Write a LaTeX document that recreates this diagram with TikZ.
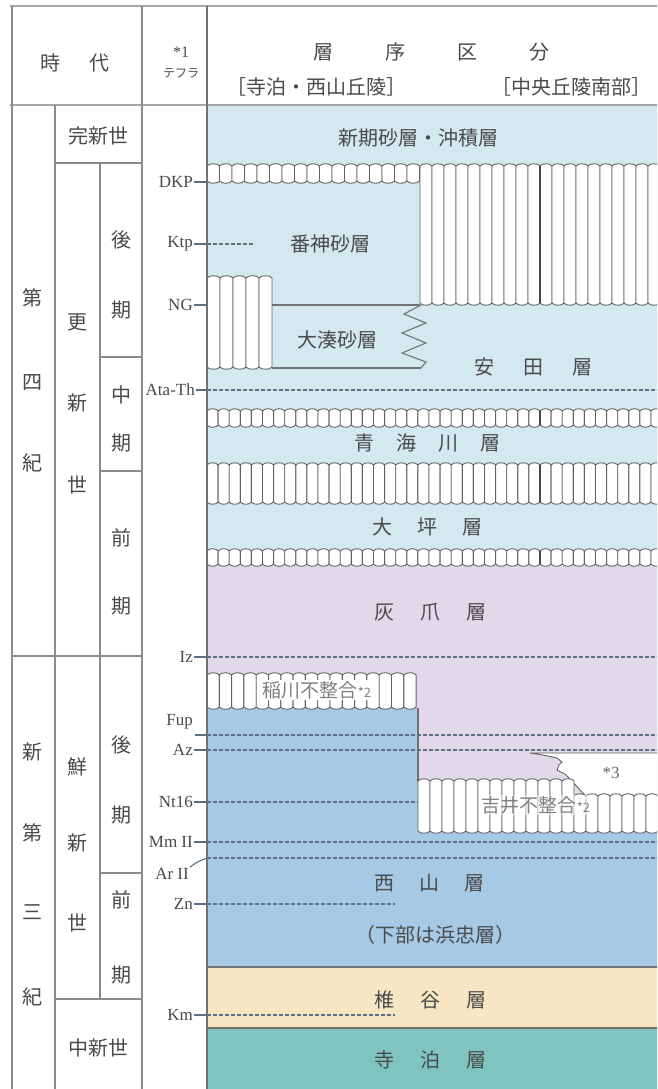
\documentclass[tikz,border=0pt]{standalone}
\usepackage{fontspec}
\setmainfont{Liberation Serif}
\newfontfamily\jp{Noto Sans CJK JP}
\definecolor{lblue}{HTML}{D4E8F0}
\definecolor{lpurp}{HTML}{E1D8EA}
\definecolor{mblue}{HTML}{A6C9E6}
\definecolor{beige}{HTML}{F6E6C3}
\definecolor{teal2}{HTML}{80C4BF}
\definecolor{tgray}{HTML}{4A4A4A}
\definecolor{dashc}{HTML}{5C6F86}
\tikzset{
  tline/.style={draw=black!45, line width=1.4pt},
  hline/.style={draw=black!35, line width=2.6pt},
  ucell/.style={draw=black!62, line width=0.9pt, fill=white},
  dline/.style={draw=dashc, line width=1.1pt, dash pattern=on 3.5pt off 2.5pt},
  lead/.style={draw=dashc, line width=1.1pt},
  sline/.style={draw=black!55, line width=1.1pt},
  lab/.style={font=\jp\fontsize{20}{22}\selectfont, text=tgray, inner sep=0pt},
  glab/.style={font=\jp\fontsize{19}{21}\selectfont, text=black!50, inner sep=1pt},
  tc/.style={font=\jp\fontsize{20}{22}\selectfont, text=tgray, inner sep=0pt},
  teph/.style={font=\fontsize{17}{19}\selectfont, text=tgray, anchor=east, inner sep=1pt},
}
% x1, period, n, ytop, ybot, bump
\newcommand\ucband[6]{%
  \foreach \k in {1,...,#3}{%
    \pgfmathsetmacro\xa{#1+(\k-1)*#2}%
    \pgfmathsetmacro\xb{#1+\k*#2}%
    \filldraw[ucell] (\xa,#4) .. controls (\xa+0.15*#2,#4-#6) and (\xb-0.15*#2,#4-#6) .. (\xb,#4)
      -- (\xb,#5) .. controls (\xb-0.15*#2,#5+#6) and (\xa+0.15*#2,#5+#6) .. (\xa,#5) -- cycle;
  }%
}
\begin{document}
\begin{tikzpicture}[x=1pt,y=-1pt]
\useasboundingbox (0,0) rectangle (657,1089);
\clip (0,0) rectangle (657,1089);
\fill[white] (0,0) rectangle (657,1089);
% ---------- colour fills
\fill[lblue] (207,105) rectangle (660,565);
\fill[lpurp] (207,565) rectangle (660,967);
\fill[mblue] (207,708) -- (418,708) -- (418,832) -- (660,832) -- (660,967) -- (207,967) -- cycle;
\fill[beige] (207,967) rectangle (660,1028);
\fill[teal2] (207,1028) rectangle (660,1089);
\draw[sline] (207,967) -- (660,967);
\draw[sline] (207,1028) -- (660,1028);
\draw[sline] (418,708) -- (418,782);
% ---------- dashed tephra lines
\draw[dline] (207,244) -- (253,244);
\draw[dline] (207,390) -- (660,390);
\draw[dline] (207,657) -- (660,657);
\draw[dline] (207,735) -- (660,735);
\draw[dline] (207,750) -- (660,750);
\draw[dline] (207,802) -- (418,802);
\draw[dline] (207,842) -- (660,842);
\draw[dline] (207,858) -- (660,858);
\draw[dline] (207,904) -- (395,904);
\draw[dline] (207,1015) -- (395,1015);
% ---------- *3 white area
\filldraw[fill=white, draw=black!60, line width=0.9pt]
  (530,753) -- (660,753) -- (660,796) -- (586,796) -- (580,790) -- (573,782) -- (565,774)
  -- (557,770) -- (559,765) -- (562,762) -- (557,758) -- (543,755) -- cycle;
% ---------- unconformity bands
\ucband{207}{12.5}{17}{166}{181}{3}
\ucband{420}{12}{20}{166}{303}{3}
\ucband{207}{13}{5}{278}{367}{3}
\ucband{207}{11.1}{41}{411}{425}{3}
\ucband{207}{11.1}{41}{465}{502}{3}
\ucband{207}{11.1}{41}{551}{564}{3}
\ucband{207}{12.3}{17}{675}{707}{3}
\ucband{418}{12}{13}{781}{831}{3}
\ucband{574}{12}{8}{796}{831}{3}
\draw[black!72, line width=1.6pt] (540,166) -- (540,303);
\draw[black!72, line width=1.6pt] (540,411) -- (540,425);
\draw[black!72, line width=1.6pt] (540,465) -- (540,502);
\draw[black!72, line width=1.6pt] (540,551) -- (540,564);
% ---------- sand layer boundaries
\draw[sline] (272,305) -- (420,305);
\draw[sline] (272,368) -- (421,368);
\draw[sline] (421,305) -- (404,314) -- (426,323) -- (402,333) -- (426,343) -- (402,353) -- (426,362) -- (421,368);
% ---------- table lines
\draw[hline] (10,6) -- (660,6);
\draw[hline] (10,105) -- (660,105);
\draw[tline] (12,6) -- (12,1089);
\draw[tline] (142,6) -- (142,1089);
\draw[tline] (55,105) -- (55,1089);
\draw[tline] (100,163) -- (100,999);
\draw[tline] (55,163) -- (142,163);
\draw[tline] (100,357) -- (142,357);
\draw[tline] (100,471) -- (142,471);
\draw[tline] (12,656) -- (142,656);
\draw[tline] (100,873) -- (142,873);
\draw[tline] (55,999) -- (142,999);
\draw[black!55, line width=1.4pt] (207,6) -- (207,1089);
% ---------- header
\node[tc] (hjd) at (75,63) {時\hspace{29pt}代};
\node[font=\fontsize{16}{17}\selectfont, text=tgray, inner sep=0pt] (hs1) at (181,52) {*1};
\node[font=\jp\fontsize{12}{13}\selectfont, text=tgray, inner sep=0pt] (hteph) at (181,73) {テフラ};
\node[tc] (hsq) at (431,52) {層\hspace{52pt}序\hspace{52pt}区\hspace{52pt}分};
\node[lab] (hl) at (316,87) {［寺泊・西山丘陵］};
\node[lab] (hr) at (571,87) {［中央丘陵南部］};
% ---------- era column
\node[tc] (kns) at (98,136) {完新世};
\foreach \c/\y [count=\i] in {第/298,四/383,紀/463} \node[tc] (qa\i) at (33,\y) {\c};
\foreach \c/\y [count=\i] in {更/322,新/403,世/485} \node[tc] (qb\i) at (77,\y) {\c};
\foreach \c/\y [count=\i] in {後/240,期/310,中/395,期/443,前/538,期/606} \node[tc] (qc\i) at (121,\y) {\c};
\foreach \c/\y [count=\i] in {新/752,第/833,三/912,紀/997} \node[tc] (na\i) at (33,\y) {\c};
\foreach \c/\y [count=\i] in {鮮/767,新/843,世/923} \node[tc] (nb\i) at (77,\y) {\c};
\foreach \c/\y [count=\i] in {後/745,期/815,前/900,期/975} \node[tc] (nc\i) at (121,\y) {\c};
\node[tc] (cns) at (98,1048) {中新世};
% ---------- tephra labels
\node[teph] (dkp) at (194,182) {DKP};
\node[teph] (ktp) at (194,244) {Ktp};
\node[teph] (ng) at (194,305) {NG};
\node[teph] (ata) at (196,390) {Ata-Th};
\node[teph] (iz) at (194,657) {Iz};
\node[teph] (fup) at (194,722) {Fup};
\node[teph] (az) at (194,750) {Az};
\node[teph] (nt) at (194,802) {Nt16};
\node[teph] (mm) at (194,842) {Mm II};
\node[teph] (ar) at (190,874) {Ar II};
\node[teph] (zn) at (194,904) {Zn};
\node[teph] (km) at (194,1015) {Km};
\coordinate (dkpE) at (207,182);
\coordinate (ktpE) at (207,244);
\coordinate (ngE) at (207,305);
\coordinate (ataE) at (207,390);
\coordinate (izE) at (207,657);
\coordinate (fupS) at (195,735);
\coordinate (fupE) at (207,735);
\coordinate (azE) at (207,750);
\coordinate (ntE) at (207,802);
\coordinate (mmE) at (207,842);
\coordinate (arE) at (207,858);
\coordinate (znE) at (207,904);
\coordinate (kmE) at (207,1015);
\draw[lead] (dkp.east) -- (dkpE);
\draw[lead] (ktp.east) -- (ktpE);
\draw[lead] (ng.east) -- (ngE);
\draw[lead] (ata.east) -- (ataE);
\draw[lead] (iz.east) -- (izE);
\draw[lead] (fupS) -- (fupE);
\draw[lead] (az.east) -- (azE);
\draw[lead] (nt.east) -- (ntE);
\draw[lead] (mm.east) -- (mmE);
\draw[lead] (ar.north east) .. controls (197,862) .. (arE);
\draw[lead] (zn.east) -- (znE);
\draw[lead] (km.east) -- (kmE);
% ---------- layer labels
\node[lab] (l1) at (418,138) {新期砂層・沖積層};
\node[lab] (l2) at (330,244) {番神砂層};
\node[lab] (l3) at (337,340) {大湊砂層};
\node[lab] (l4) at (533,367) {安\hspace{29pt}田\hspace{29pt}層};
\node[lab] (l5) at (427,443) {青\hspace{22pt}海\hspace{22pt}川\hspace{22pt}層};
\node[lab] (l6) at (427,527) {大\hspace{25pt}坪\hspace{25pt}層};
\node[lab] (l7) at (430,612) {灰\hspace{26pt}爪\hspace{26pt}層};
\node[glab, fill=white] (l8) at (317,690) {稲川不整合{\fontsize{13}{13}\selectfont *2}};
\node[glab, fill=white, fill opacity=0.55, text opacity=1] (l9) at (536,805) {吉井不整合{\fontsize{13}{13}\selectfont *2}};
\node[font=\fontsize{17}{18}\selectfont, text=black!60, inner sep=0pt] (l10) at (611,773) {*3};
\node[lab] (l11) at (429,883) {西\hspace{25pt}山\hspace{25pt}層};
\node[lab] (l12) at (435,935) {（下部は浜忠層）};
\node[lab] (l13) at (430,1000) {椎\hspace{26pt}谷\hspace{26pt}層};
\node[lab] (l14) at (430,1060) {寺\hspace{26pt}泊\hspace{26pt}層};
\end{tikzpicture}
\end{document}
